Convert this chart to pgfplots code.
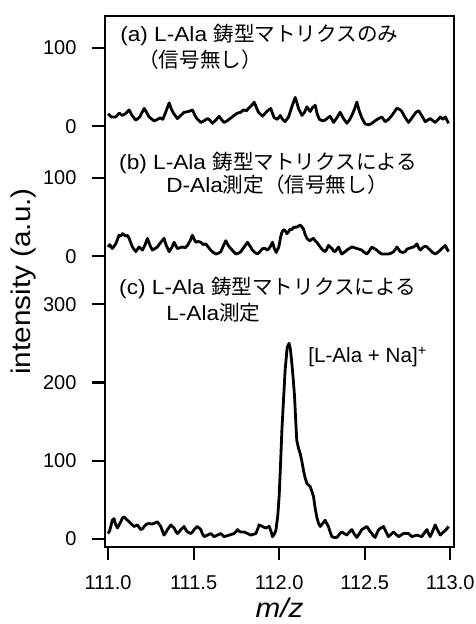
\documentclass[border=0pt]{standalone}
\usepackage{fontspec}
\setmainfont{Liberation Sans}
\newfontfamily\jp{Noto Sans CJK JP}
\newfontfamily\wide{Liberation Sans}[FakeStretch=1.1]
\usepackage{pgfplots}
\usepackage{pgfplotstable}
\pgfplotsset{compat=1.18}

% panel (a): template matrix only
\pgfplotstableread{
m v
111.000 16
111.020 12
111.045 12
111.065 17
111.084 14
111.100 16
111.123 21
111.140 14
111.162 8
111.185 12
111.211 23
111.225 18
111.240 12
111.269 7
111.290 9
111.304 11
111.320 9
111.333 16
111.357 30
111.370 22
111.382 17
111.405 10
111.425 14
111.444 18
111.470 19
111.493 21
111.508 14
111.519 10
111.542 5
111.560 7
111.581 10
111.595 8
111.610 4
111.630 8
111.649 13
111.662 9
111.678 5
111.695 7
111.713 10
111.737 14
111.756 17
111.775 18
111.791 21
111.810 20
111.821 23
111.840 27
111.854 31
111.867 24
111.879 18
111.903 13
111.915 16
111.928 19
111.951 23
111.962 16
111.971 11
111.990 9
112.006 14
112.020 9
112.035 6
112.055 12
112.074 25
112.094 37
112.104 30
112.113 23
112.133 14
112.148 18
112.162 25
112.172 22
112.181 19
112.195 24
112.211 27
112.222 16
112.235 9
112.255 7
112.269 8
112.285 11
112.298 13
112.318 5
112.337 11
112.357 18
112.376 10
112.396 4
112.410 8
112.425 14
112.440 22
112.454 31
112.468 20
112.483 11
112.503 3
112.525 2
112.542 4
112.560 7
112.581 10
112.600 12
112.620 6
112.640 9
112.659 14
112.675 19
112.688 23
112.703 22
112.717 19
112.735 12
112.756 5
112.770 9
112.786 14
112.800 18
112.815 20
112.830 15
112.854 6
112.868 8
112.883 10
112.900 7
112.912 5
112.930 9
112.942 12
112.956 9
112.971 12
112.990 4
}\ta

% panel (b): D-Ala
\pgfplotstableread{
m v
111.000 12
111.010 15
111.016 13
111.025 10
111.045 16
111.064 27
111.075 26
111.084 29
111.103 26
111.113 27
111.123 23
111.142 12
111.162 6
111.181 12
111.201 8
111.215 14
111.230 23
111.245 14
111.259 8
111.275 10
111.288 12
111.305 17
111.327 23
111.340 14
111.357 6
111.372 11
111.386 18
111.405 10
111.420 11
111.435 12
111.450 11
111.464 14
111.480 20
111.493 27
111.503 22
111.513 18
111.527 19
111.542 18
111.557 15
111.571 16
111.585 12
111.600 8
111.615 5
111.630 3
111.645 4
111.659 6
111.675 14
111.688 20
111.702 14
111.717 10
111.733 6
111.747 3
111.762 4
111.776 6
111.795 12
111.815 18
111.830 13
111.844 8
111.858 5
111.873 3
111.888 6
111.903 10
111.918 10
111.932 8
111.947 12
111.961 18
111.972 10
111.983 5
111.998 12
112.008 24
112.015 30
112.025 34
112.035 33
112.045 29
112.054 31
112.065 35
112.074 34
112.084 37
112.094 37
112.108 38
112.123 40
112.132 38
112.142 35
112.152 28
112.162 23
112.172 21
112.181 20
112.191 22
112.201 23
112.210 20
112.220 18
112.230 15
112.240 12
112.255 8
112.269 6
112.278 9
112.288 14
112.298 12
112.308 10
112.318 7
112.327 6
112.337 9
112.347 12
112.357 7
112.366 3
112.380 5
112.396 8
112.410 10
112.425 12
112.440 11
112.454 10
112.470 9
112.483 8
112.498 5
112.513 3
112.527 7
112.542 12
112.556 10
112.571 8
112.585 5
112.600 3
112.620 3
112.639 3
112.654 4
112.669 6
112.680 9
112.688 12
112.698 9
112.708 6
112.722 5
112.737 6
112.746 9
112.756 10
112.770 11
112.786 12
112.797 14
112.805 16
112.815 11
112.825 8
112.834 10
112.844 12
112.854 13
112.864 12
112.873 10
112.883 8
112.897 5
112.912 3
112.927 5
112.942 8
112.956 11
112.971 14
112.980 10
112.990 6
}\tb

% panel (c): L-Ala
\pgfplotstableread{
m v
111.000 7
111.008 10
111.016 16
111.025 24
111.035 26
111.045 18
111.055 14
111.064 18
111.074 22
111.084 27
111.094 28
111.103 26
111.113 24
111.123 22
111.133 20
111.142 18
111.152 16
111.162 17
111.171 18
111.181 15
111.191 12
111.201 13
111.211 16
111.225 19
111.240 20
111.255 19
111.269 20
111.280 21
111.288 22
111.298 19
111.308 16
111.318 10
111.327 5
111.337 8
111.347 12
111.357 15
111.367 18
111.376 16
111.386 14
111.395 10
111.405 7
111.415 9
111.425 12
111.435 14
111.444 16
111.454 12
111.464 9
111.474 8
111.484 7
111.494 9
111.503 12
111.512 14
111.522 16
111.532 14
111.542 12
111.551 7
111.561 3
111.571 4
111.581 5
111.590 6
111.600 7
111.610 5
111.620 3
111.630 4
111.639 5
111.649 6
111.659 7
111.668 5
111.678 3
111.693 4
111.708 5
111.722 6
111.737 7
111.746 9
111.756 12
111.766 10
111.776 9
111.786 9
111.795 9
111.805 8
111.815 7
111.825 6
111.834 5
111.849 6
111.864 7
111.873 12
111.883 18
111.893 17
111.903 16
111.912 15
111.922 14
111.932 15
111.942 16
111.952 10
111.961 3
111.971 6
111.981 11
111.992 30
112.000 55
112.008 95
112.016 139
112.026 180
112.035 216
112.047 245
112.058 250
112.066 242
112.074 225
112.082 205
112.090 182
112.097 150
112.103 126
112.113 116
112.123 109
112.132 100
112.142 88
112.152 78
112.162 71
112.171 69
112.181 67
112.191 61
112.201 54
112.210 40
112.220 28
112.230 20
112.240 16
112.255 20
112.269 24
112.278 20
112.288 16
112.298 9
112.308 3
112.322 2
112.337 2
112.352 6
112.366 9
112.381 7
112.396 5
112.410 9
112.425 12
112.440 6
112.454 2
112.469 7
112.483 12
112.498 14
112.513 16
112.527 11
112.542 7
112.551 4
112.561 2
112.571 7
112.581 12
112.595 14
112.610 16
112.625 9
112.639 3
112.654 6
112.669 9
112.683 6
112.698 3
112.712 5
112.727 7
112.741 7
112.756 7
112.766 5
112.776 3
112.790 4
112.805 5
112.820 4
112.834 3
112.849 8
112.864 12
112.873 7
112.883 3
112.897 10
112.912 18
112.927 11
112.942 5
112.951 7
112.961 9
112.976 12
112.990 16
}\tc

\newcommand\annfont{\fontsize{20.6}{24}\selectfont\wide}

\begin{document}
\begin{tikzpicture}
\begin{axis}[
  scale only axis, width=349pt, height=531pt,
  xmin=110.982, xmax=113.022, ymin=-10.2, ymax=668,
  axis line style={line width=2.2pt},
  xtick={111,111.5,112,112.5,113},
  ytick={0,100,200,300,361,461,527,627},
  yticklabels={0,100,200,300,0,100,0,100},
  tick align=outside, xtick pos=bottom, ytick pos=left,
  major tick length=13pt,
  every tick/.style={line width=2.2pt, black},
  tick label style={font=\fontsize{20}{23}\selectfont},
  /pgf/number format/assume math mode=true,
  yticklabel style={xshift=-12pt},
  xticklabel style={yshift=-12pt, /pgf/number format/.cd, fixed, fixed zerofill, precision=1},
  label style={font=\fontsize{27}{30}\selectfont\wide},
  xlabel={\itshape m/z},
  xlabel style={yshift=-1pt},
  ylabel={intensity (a.u.)},
]
\addplot[black, line width=2.8pt, line join=round] table[x=m, y expr=\thisrow{v}+527] {\ta};
\addplot[black, line width=2.8pt, line join=round] table[x=m, y expr=\thisrow{v}+361] {\tb};
\addplot[black, line width=2.8pt, line join=round] table[x=m, y=v] {\tc};

\node[anchor=west, inner sep=0, font=\annfont] at (axis cs:111.070,643.7) {(a) L-Ala {\jp 鋳型マトリクスのみ}};
\node[anchor=west, inner sep=0, font=\annfont] at (axis cs:111.175,611.7) {{\jp （信号無し）}};
\node[anchor=west, inner sep=0, font=\annfont] at (axis cs:111.064,480.2) {(b) L-Ala {\jp 鋳型マトリクスによる}};
\node[anchor=west, inner sep=0, font=\annfont] at (axis cs:111.339,452.1) {D-Ala{\jp 測定（信号無し）}};
\node[anchor=west, inner sep=0, font=\annfont] at (axis cs:111.064,320.6) {(c) L-Ala {\jp 鋳型マトリクスによる}};
\node[anchor=west, inner sep=0, font=\annfont] at (axis cs:111.339,288.6) {L-Ala{\jp 測定}};
\node[anchor=west, inner sep=0, font=\fontsize{20.6}{24}\selectfont] at (axis cs:112.170,232.4) {[L-Ala + Na]\textsuperscript{+}};

\coordinate (fsw) at (rel axis cs:0,0);
\end{axis}
\pgfresetboundingbox
\path ([shift={(-105pt,-77pt)}]fsw) rectangle ([shift={(370pt,547pt)}]fsw);
\end{tikzpicture}
\end{document}
